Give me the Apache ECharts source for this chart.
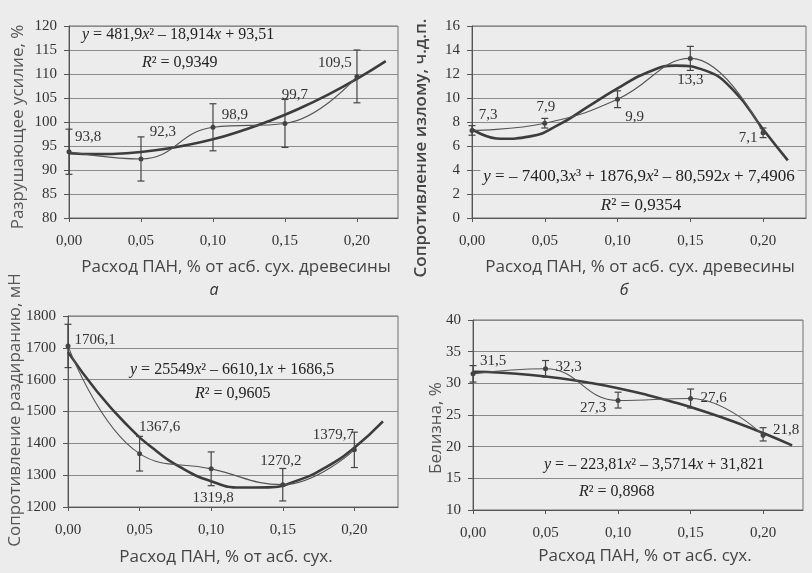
<!DOCTYPE html>
<html><head><meta charset="utf-8">
<script src="https://cdn.jsdelivr.net/npm/echarts@6/dist/echarts.min.js"></script>
<style>html,body{margin:0;padding:0;background:#ececec;}#c{width:812px;height:573px;}</style>
</head><body><div id="c"></div>
<script>
// ---------- data ----------
const xDose = [0, 0.05, 0.10, 0.15, 0.20];
const trendX = [0, 0.02, 0.04, 0.06, 0.08, 0.10, 0.12, 0.14, 0.16, 0.18, 0.20, 0.22];

// а — Разрушающее усилие, %
const strengthValues = [93.8, 92.3, 98.9, 99.7, 109.5];
const strengthErrLow = [89.1, 87.7, 94.0, 94.7, 104.0];
const strengthErrHigh = [98.5, 96.9, 103.8, 104.7, 115.0];
const strengthTrend = [93.5, 93.3, 93.5, 94.1, 95.1, 96.4, 98.2, 100.3, 102.8, 105.7, 109.0, 112.7];

// б — Сопротивление излому, ч.д.п.
const foldValues = [7.3, 7.9, 9.9, 13.3, 7.1];
const foldErrLow = [6.9, 7.5, 9.2, 12.3, 6.7];
const foldErrHigh = [7.7, 8.3, 10.6, 14.3, 7.5];
const foldTrendX = [0, 0.02, 0.04, 0.06, 0.08, 0.10, 0.12, 0.14, 0.16, 0.18, 0.20, 0.217];
const foldTrend = [7.4, 6.6, 6.8, 7.8, 9.3, 10.8, 12.1, 12.7, 12.3, 10.6, 7.4, 4.8];

// в — Сопротивление раздиранию, мН
const tearValues = [1706.1, 1367.6, 1319.8, 1270.2, 1379.7];
const tearErrLow = [1638, 1313, 1267, 1219, 1324];
const tearErrHigh = [1774, 1422, 1373, 1321, 1435];
const tearTrend = [1686.5, 1564.5, 1463.0, 1381.9, 1321.2, 1281.0, 1261.2, 1261.8, 1282.9, 1324.5, 1386.4, 1468.8];

// г — Белизна, %
const whiteValues = [31.5, 32.3, 27.3, 27.6, 21.8];
const whiteErrLow = [30.2, 31.0, 26.1, 26.1, 20.9];
const whiteErrHigh = [32.8, 33.6, 28.6, 29.1, 23.0];
const whiteTrend = [31.82, 31.66, 31.32, 30.80, 30.10, 29.23, 28.17, 26.93, 25.52, 23.93, 22.15, 20.20];

const xTitleLong = 'Расход ПАН, % от асб. сух. древесины';
const xTitleShort = 'Расход ПАН, % от асб. сух.';
const yTitles = ['Разрушающее усилие, %', 'Сопротивление излому, ч.д.п.', 'Сопротивление раздиранию, мН', 'Белизна, %'];
const equations = [
  '{i|y} = 481,9{i|x}² – 18,914{i|x} + 93,51',
  '{i|y} = – 7400,3{i|x}³ + 1876,9{i|x}² – 80,592{i|x} + 7,4906',
  '{i|y} = 25549{i|x}² – 6610,1{i|x} + 1686,5',
  '{i|y} = – 223,81{i|x}² – 3,5714{i|x} + 31,821'
];
const rSquared = ['{i|R}² = 0,9349', '{i|R}² = 0,9354', '{i|R}² = 0,9605', '{i|R}² = 0,8968'];

// ---------- layout ----------
const SERIF = '"Liberation Serif", "DejaVu Serif", serif';
const SANS = '"Open Sans", "Noto Sans", sans-serif';
const panels = [
  { grid: {left: 69, top: 26, width: 329, height: 192}, xMax: 0.2285, yMin: 80, yMax: 120, yInt: 5,
    values: strengthValues, lo: strengthErrLow, hi: strengthErrHigh, tx: trendX, ty: strengthTrend,
    offsets: [[19, -15], [22, -27], [22, -12], [10, -28], [-22, -13]] },
  { grid: {left: 472, top: 26, width: 334, height: 192}, xMax: 0.2295, yMin: 0, yMax: 16, yInt: 2,
    values: foldValues, lo: foldErrLow, hi: foldErrHigh, tx: foldTrendX, ty: foldTrend,
    offsets: [[16, -15], [1, -16], [17, 18], [0, 22], [-15, 5]] },
  { grid: {left: 68, top: 316, width: 330, height: 191}, xMax: 0.2305, yMin: 1200, yMax: 1800, yInt: 100,
    values: tearValues, lo: tearErrLow, hi: tearErrHigh, tx: trendX, ty: tearTrend,
    offsets: [[27, -6], [20, -27], [2, 29], [-2, -24], [-21, -15]] },
  { grid: {left: 473, top: 320, width: 330, height: 190}, xMax: 0.2275, yMin: 10, yMax: 40, yInt: 5,
    values: whiteValues, lo: whiteErrLow, hi: whiteErrHigh, tx: trendX, ty: whiteTrend,
    offsets: [[20, -13], [23, -2], [-25, 8], [23, 0], [23, -5]] }
];

const fmt = v => String(v).replace('.', ',');

function errRender(params, api) {
  const x = api.value(0), lo = api.value(1), hi = api.value(2);
  const p1 = api.coord([x, hi]), p2 = api.coord([x, lo]);
  const w = 3.5;
  const style = {stroke: '#444', lineWidth: 1.2, fill: null};
  return {type: 'group', children: [
    {type: 'line', shape: {x1: p1[0], y1: p1[1], x2: p2[0], y2: p2[1]}, style},
    {type: 'line', shape: {x1: p1[0] - w, y1: p1[1], x2: p1[0] + w, y2: p1[1]}, style},
    {type: 'line', shape: {x1: p2[0] - w, y1: p2[1], x2: p2[0] + w, y2: p2[1]}, style}
  ]};
}

const grids = [], xAxes = [], yAxes = [], series = [];
panels.forEach((p, i) => {
  grids.push(Object.assign({show: true, borderColor: '#707070', borderWidth: 1, backgroundColor: 'transparent'}, p.grid));
  xAxes.push({
    type: 'value', gridIndex: i, min: 0, max: p.xMax, interval: 0.05,
    axisLine: {show: true, onZero: false, lineStyle: {color: '#555', width: 1}},
    axisTick: {show: true, length: 4, lineStyle: {color: '#555'}},
    splitLine: {show: false},
    axisLabel: {showMaxLabel: false, margin: 16, color: '#333', fontFamily: SERIF, fontSize: 15,
      formatter: v => v > 0.21 ? '' : v.toFixed(2).replace('.', ',')}
  });
  yAxes.push({
    type: 'value', gridIndex: i, min: p.yMin, max: p.yMax, interval: p.yInt,
    axisLine: {show: true, lineStyle: {color: '#555', width: 1}},
    axisTick: {show: true, length: 5, lineStyle: {color: '#555'}},
    splitLine: {show: true, lineStyle: {color: '#8a8a8a', width: 1}},
    axisLabel: {margin: 12, color: '#333', fontFamily: SERIF, fontSize: 15, formatter: v => String(v)}
  });
  // trend line
  series.push({
    type: 'line', xAxisIndex: i, yAxisIndex: i, smooth: true, symbol: 'none',
    data: p.tx.map((x, k) => [x, p.ty[k]]),
    lineStyle: {color: '#3c3c3c', width: 2.6}, z: 3, silent: true
  });
  // thin line through data with labels
  series.push({
    type: 'line', xAxisIndex: i, yAxisIndex: i, smooth: 0.45, symbol: 'circle', symbolSize: 5,
    itemStyle: {color: '#444'}, lineStyle: {color: '#555', width: 1.1}, z: 4,
    data: xDose.map((x, k) => ({
      value: [x, p.values[k]],
      label: {show: true, position: 'inside', offset: p.offsets[k], align: 'center', verticalAlign: 'middle',
        formatter: () => fmt(p.values[k]), color: '#333', fontFamily: SERIF, fontSize: 15}
    }))
  });
  // error bars
  series.push({
    type: 'custom', xAxisIndex: i, yAxisIndex: i, renderItem: errRender, z: 5,
    encode: {x: 0, y: [1, 2]}, clip: false,
    data: xDose.map((x, k) => [x, p.lo[k], p.hi[k]])
  });
});

function eqText(text, x, y, size, align, bg) {
  return {type: 'text', x, y, z: 100,
    style: {text, fill: '#222', font: size + 'px ' + SERIF, align: align || 'left', verticalAlign: 'middle',
      rich: {i: {fontStyle: 'italic', fontFamily: SERIF, fontSize: size, fill: '#222'}},
      backgroundColor: bg || null, padding: bg ? [1, 3] : 0}};
}
function vText(text, x, y, extra) {
  return {type: 'text', x, y, rotation: Math.PI / 2, z: 100,
    style: Object.assign({text, fill: '#555', font: '17px ' + SANS, align: 'center', verticalAlign: 'middle'}, extra || {})};
}
function hText(text, x, y, extra) {
  return {type: 'text', x, y, z: 100,
    style: Object.assign({text, fill: '#444', font: '17px ' + SANS, align: 'center', verticalAlign: 'middle'}, extra || {})};
}

const graphic = [
  eqText(equations[0], 82, 35, 16),
  eqText(rSquared[0], 142, 63, 16),
  eqText(equations[1], 639, 177, 17, 'center', '#ececec'),
  eqText(rSquared[1], 641, 206, 17, 'center', '#ececec'),
  eqText(equations[2], 130, 370, 16),
  eqText(rSquared[2], 195, 394, 16),
  eqText(equations[3], 544, 465, 16),
  eqText(rSquared[3], 579, 492, 16),
  vText(yTitles[0], 18, 127),
  vText(yTitles[1], 421, 148, {fill: '#444', font: '600 17px ' + SANS}),
  vText(yTitles[2], 15, 410),
  vText(yTitles[3], 436, 428),
  hText(xTitleLong, 236, 267),
  hText(xTitleLong, 640, 267),
  hText(xTitleShort, 226, 557),
  hText(xTitleShort, 645, 556),
  hText('а', 214, 290, {font: 'italic 16px ' + SANS, fill: '#333'}),
  hText('б', 624, 290, {font: 'italic 16px ' + SANS, fill: '#333'})
];

const chart = echarts.init(document.getElementById('c'), null, {renderer: 'canvas'});
chart.setOption({
  backgroundColor: '#ececec',
  animation: false,
  grid: grids, xAxis: xAxes, yAxis: yAxes, series, graphic
});
</script></body></html>
